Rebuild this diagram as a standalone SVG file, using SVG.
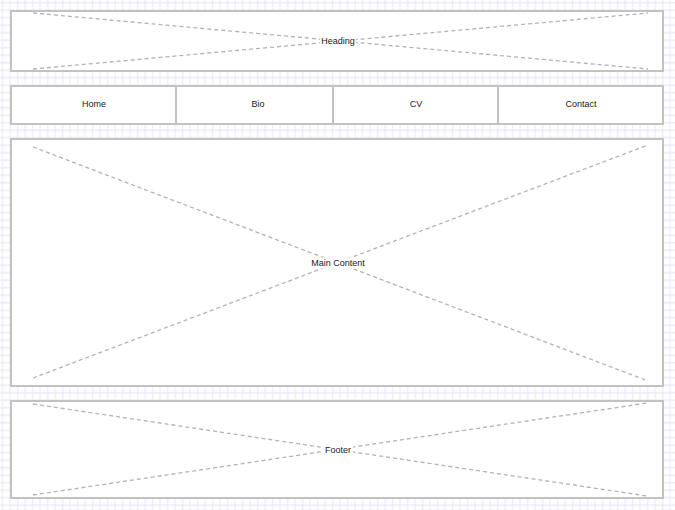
<svg xmlns="http://www.w3.org/2000/svg" width="675" height="510" viewBox="0 0 675 510">
  <defs>
    <pattern id="grid" patternUnits="userSpaceOnUse" width="7.5" height="7.5">
      <path d="M2.7 0V7.5M0 2.7H7.5" stroke="#e6e6f7" stroke-width="1" fill="none"/>
    </pattern>
  </defs>
  <style>
    .box { fill: #ffffff; stroke: #c2c2c2; stroke-width: 2; }
    .cross { stroke: #b3b3b3; stroke-width: 1.3; stroke-dasharray: 4 3; fill: none; }
    .lbl { font-family: "Liberation Sans", Arial, sans-serif; font-size: 9px; fill: #1a1a1a; text-anchor: middle; }
    .lblbg { fill: #ffffff; }
    .div { stroke: #c2c2c2; stroke-width: 2; }
  </style>
  <rect width="675" height="510" fill="#ffffff"/>
  <rect width="675" height="510" fill="url(#grid)"/>

  <g id="heading">
    <rect class="box" x="11" y="11" width="652" height="60"/>
    <line class="cross" x1="33" y1="13" x2="648" y2="69"/>
    <line class="cross" x1="33" y1="69" x2="648" y2="13"/>
    <rect class="lblbg" x="320" y="35.5" width="36" height="11"/>
    <text class="lbl" x="338" y="44">Heading</text>
  </g>

  <g id="nav">
    <rect class="box" x="11" y="86" width="652" height="38"/>
    <line class="div" x1="176" y1="86" x2="176" y2="124"/>
    <line class="div" x1="333" y1="86" x2="333" y2="124"/>
    <line class="div" x1="498" y1="86" x2="498" y2="124"/>
    <g id="nav-home"><text class="lbl" x="94" y="107">Home</text></g>
    <g id="nav-bio"><text class="lbl" x="258" y="107">Bio</text></g>
    <g id="nav-cv"><text class="lbl" x="416" y="107">CV</text></g>
    <g id="nav-contact"><text class="lbl" x="581" y="107">Contact</text></g>
  </g>

  <g id="main-content">
    <rect class="box" x="11" y="139" width="652" height="247"/>
    <line class="cross" x1="33" y1="147" x2="648" y2="381"/>
    <line class="cross" x1="33" y1="378" x2="648" y2="145"/>
    <rect class="lblbg" x="309" y="257.5" width="58" height="11"/>
    <text class="lbl" x="338" y="266">Main Content</text>
  </g>

  <g id="footer">
    <rect class="box" x="11" y="401" width="652" height="97"/>
    <line class="cross" x1="33" y1="404" x2="647" y2="496"/>
    <line class="cross" x1="33" y1="495" x2="647" y2="403"/>
    <rect class="lblbg" x="323" y="444.5" width="30" height="11"/>
    <text class="lbl" x="338" y="453">Footer</text>
  </g>
</svg>
